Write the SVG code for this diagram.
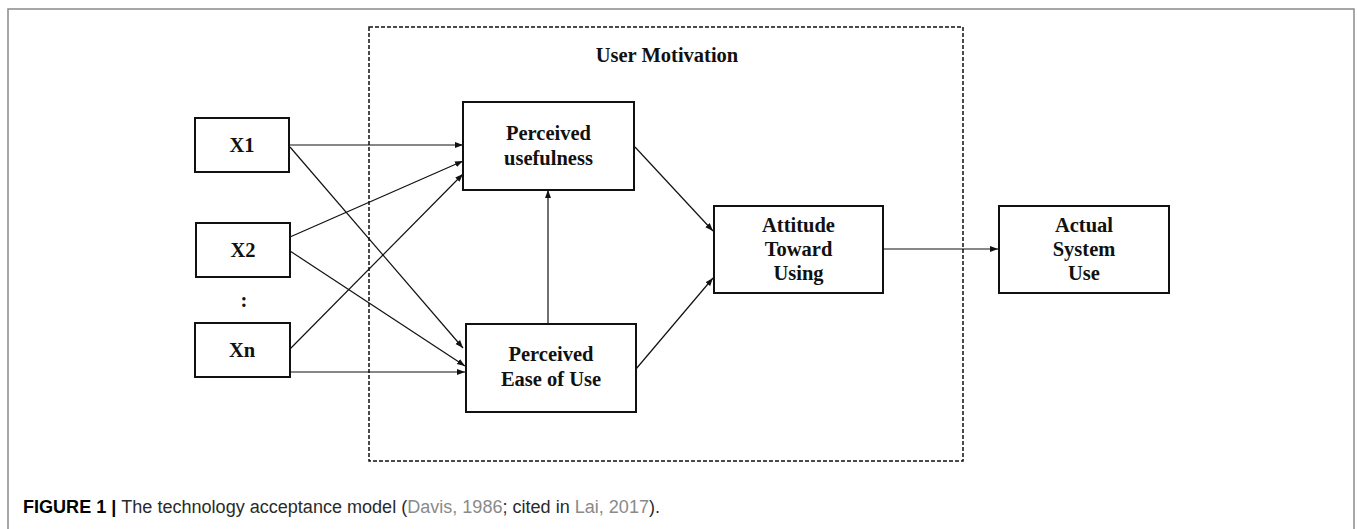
<svg xmlns="http://www.w3.org/2000/svg" width="1358" height="529" viewBox="0 0 1358 529">
<style>
.box{fill:#fff;stroke:#111;stroke-width:2}
.lbl{font-family:"Liberation Serif","Times New Roman",serif;font-weight:bold;font-size:20.5px;fill:#111;text-anchor:middle}
.con{stroke:#111;stroke-width:1.2;fill:none;marker-end:url(#ah)}
.cap{font-family:"Liberation Sans Narrow","Liberation Sans",Arial,sans-serif;font-size:18px;fill:#2a2a2a}
</style>
<defs>
<marker id="ah" markerUnits="userSpaceOnUse" markerWidth="9" markerHeight="7" refX="8" refY="3" orient="auto">
<path d="M0,0 L8,3 L0,6 z" fill="#111"/>
</marker>
</defs>
<rect x="0" y="0" width="1358" height="529" fill="#fff"/>
<rect id="frame" x="8" y="9" width="1346" height="540" fill="none" stroke="#8a8a8a" stroke-width="1.5"/>
<g id="user-motivation">
<rect x="369" y="27" width="594" height="434" fill="none" stroke="#111" stroke-width="1.5" stroke-dasharray="4,2"/>
<text class="lbl" x="667" y="62">User Motivation</text>
</g>
<g id="connectors">
<line class="con" x1="290" y1="145" x2="463" y2="145"/>
<line class="con" x1="290" y1="147" x2="463" y2="348"/>
<line class="con" x1="290" y1="237" x2="463" y2="161"/>
<line class="con" x1="290" y1="251" x2="465" y2="366"/>
<line class="con" x1="290" y1="349" x2="463" y2="174"/>
<line class="con" x1="290" y1="372" x2="465" y2="372"/>
<line class="con" x1="548" y1="324" x2="548" y2="190"/>
<line class="con" x1="635" y1="147" x2="713" y2="231"/>
<line class="con" x1="636" y1="369" x2="713" y2="278"/>
<line class="con" x1="883" y1="249" x2="998" y2="249"/>
</g>
<g id="x1">
<rect class="box" x="195" y="118" width="94" height="54"/>
<text class="lbl" x="242" y="152">X1</text>
</g>
<g id="x2">
<rect class="box" x="196" y="223" width="94" height="54"/>
<text class="lbl" x="243" y="257">X2</text>
</g>
<g id="dots">
<text class="lbl" x="244" y="307">:</text>
</g>
<g id="xn">
<rect class="box" x="195" y="323" width="95" height="54"/>
<text class="lbl" x="242" y="357">Xn</text>
</g>
<g id="pu">
<rect class="box" x="463" y="102" width="171" height="88"/>
<text class="lbl" x="548.5" y="140">Perceived</text>
<text class="lbl" x="548.5" y="165">usefulness</text>
</g>
<g id="peou">
<rect class="box" x="466" y="324" width="170" height="88"/>
<text class="lbl" x="551" y="361">Perceived</text>
<text class="lbl" x="551" y="386">Ease of Use</text>
</g>
<g id="atu">
<rect class="box" x="714" y="206" width="169" height="87"/>
<text class="lbl" x="798.5" y="232">Attitude</text>
<text class="lbl" x="798.5" y="256">Toward</text>
<text class="lbl" x="798.5" y="280">Using</text>
</g>
<g id="asu">
<rect class="box" x="999" y="206" width="170" height="87"/>
<text class="lbl" x="1084" y="232">Actual</text>
<text class="lbl" x="1084" y="256">System</text>
<text class="lbl" x="1084" y="280">Use</text>
</g>
<text id="caption" class="cap" x="23" y="513" textLength="637" lengthAdjust="spacingAndGlyphs"><tspan font-weight="bold" fill="#000">FIGURE 1 | </tspan>The technology acceptance model (<tspan fill="#8a8a8a">Davis, 1986</tspan>; cited in <tspan fill="#8a8a8a">Lai, 2017</tspan>).</text>
</svg>
